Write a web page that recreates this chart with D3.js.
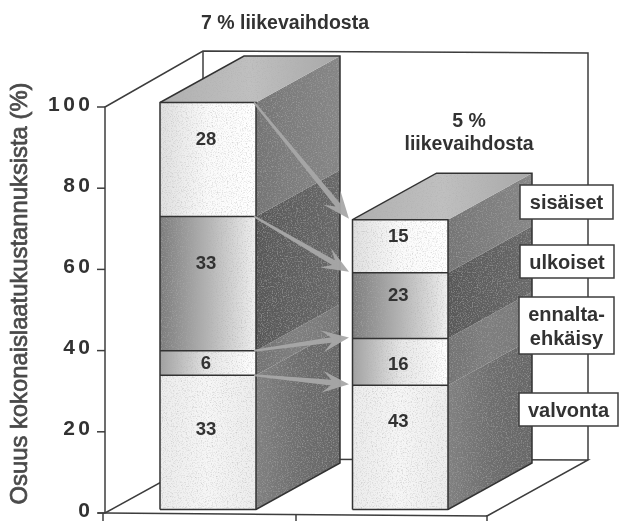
<!DOCTYPE html>
<html>
<head>
<meta charset="utf-8">
<script src="https://cdn.jsdelivr.net/npm/d3@7"></script>
<style>
  html, body { margin: 0; padding: 0; background: #fff; }
  svg { display: block; }
  text { font-family: "Liberation Sans", Arial, sans-serif; font-weight: bold; fill: #333; }
</style>
</head>
<body>
<div id="chart"></div>
<script>
const width = 630, height = 529;

const axisTicks = [0, 20, 40, 60, 80, 100];
const categories = ['valvonta', 'ennalta-ehkäisy', 'ulkoiset', 'sisäiset'];
const bar1Labels = [33, 6, 33, 28];
const bar2Labels = [43, 16, 23, 15];
// drawn heights in axis units: second bar is scaled 5/7 against the first
const bar1Heights = [33, 6, 33, 28];
const bar2Heights = [30.5, 11.5, 16.2, 13];

const svg = d3.select('#chart').append('svg')
    .attr('width', width)
    .attr('height', height);

const defs = svg.append('defs');

// paper grain for the scanned faces
const grain = defs.append('filter').attr('id', 'grain')
    .attr('x', 0).attr('y', 0).attr('width', '100%').attr('height', '100%');
grain.append('feTurbulence').attr('type', 'fractalNoise').attr('baseFrequency', 0.8)
    .attr('numOctaves', 2).attr('seed', 4).attr('result', 'n');
grain.append('feColorMatrix').attr('in', 'n').attr('type', 'matrix')
    .attr('values', '0 0 0 0 0.42  0 0 0 0 0.42  0 0 0 0 0.42  0 0 0 1.5 -0.72')
    .attr('result', 'dots');
grain.append('feComposite').attr('in', 'dots').attr('in2', 'SourceAlpha').attr('operator', 'in').attr('result', 'clip');
const gm = grain.append('feMerge');
gm.append('feMergeNode').attr('in', 'SourceGraphic');
gm.append('feMergeNode').attr('in', 'clip');

const soft = defs.append('filter').attr('id', 'soft');
soft.append('feGaussianBlur').attr('stdDeviation', 0.4);

function linearGrad(id, x2, y2, stops) {
    const g = defs.append('linearGradient').attr('id', id)
        .attr('x1', 0).attr('y1', 0).attr('x2', x2).attr('y2', y2);
    stops.forEach((s, i) => g.append('stop')
        .attr('offset', i / (stops.length - 1))
        .attr('stop-color', s));
}

// one front and one side gradient for each category, bottom to top
const frontStops = [
    ['#ececec', '#f6f6f6', '#ededed'],
    ['#a0a0a0', '#e6e6e6', '#ffffff'],
    ['#7c7c7c', '#b4b4b4', '#f0f0f0'],
    ['#e0e0e0', '#fafafa', '#ffffff']
];
const sideStops = [
    ['#808080', '#6e6e6e', '#666666'],
    ['#727272', '#7e7e7e', '#767676'],
    ['#585858', '#606060', '#686868'],
    ['#747474', '#7e7e7e', '#868686']
];
frontStops.forEach((s, i) => linearGrad('front' + i, 1, 0, s));
sideStops.forEach((s, i) => linearGrad('side' + i, 1, 0, s));
linearGrad('topFace', 1, 0, ['#b0b0b0', '#c0c0c0', '#a8a8a8']);

// axis is drawn on the front floor edge, the bars sit a little behind it
const yAxisScale = d3.scaleLinear().domain([0, 100]).range([513, 107]);
const yBar = d3.scaleLinear().domain([0, 100]).range([509.5, 102.5]);
const depth = { x: 84, y: -46.5 };
const wall = { x: 98, y: -56 };
const xFloor = d3.scaleLinear().domain([0, 2]).range([105, 487]);

// where the number sits inside its segment, measured from the segment's top
const bar1LabelFrac = [0.40, 0.48, 0.34, 0.32];
const bar2LabelFrac = [0.28, 0.53, 0.33, 0.30];

const bars = [
    { x0: 160, x1: 256, heights: bar1Heights, labels: bar1Labels, frac: bar1LabelFrac },
    { x0: 352.5, x1: 448, heights: bar2Heights, labels: bar2Labels, frac: bar2LabelFrac }
];
bars.forEach(b => {
    let acc = 0;
    b.stack = b.heights.map(h => {
        const s = { y0: acc, y1: acc + h };
        acc += h;
        return s;
    });
});

const frame = svg.append('g').attr('filter', 'url(#soft)')
    .attr('fill', 'none').attr('stroke', '#3c3c3c').attr('stroke-width', 1.5);

// walls and floor
const line = d3.line();
const x0 = xFloor(0), x2 = xFloor(2), yTop = yAxisScale(100), yBot = yAxisScale(0);
frame.append('path').attr('d', line([[x0, yBot], [x0, yTop], [x0 + wall.x, yTop + wall.y], [x2 + 101, yTop + wall.y + 2], [x2 + 101, yBot - 53]]));
frame.append('path').attr('d', line([[x0 + wall.x, yTop + wall.y], [x0 + wall.x, yTop + wall.y + 30]]));
frame.append('path').attr('d', line([[x0 - 7, yBot], [x0, yBot], [x2, yBot + 3]]));
frame.append('path').attr('d', line([[x0, yBot], [x0 + wall.x, yBot - 54], [x2 + 101, yBot - 53], [x2, yBot + 3]]));
[0, 1, 2].forEach(i => {
    const x = xFloor(i) - (i === 0 ? 2 : 0);
    frame.append('line').attr('x1', x).attr('x2', x)
        .attr('y1', yBot + (i === 0 ? 0 : 2)).attr('y2', yBot + 8);
});

// y axis ticks and labels
axisTicks.forEach(t => {
    frame.append('line')
        .attr('x1', x0 - 8).attr('x2', x0)
        .attr('y1', yAxisScale(t)).attr('y2', yAxisScale(t));
});
const labelG = svg.append('g').attr('filter', 'url(#soft)');
labelG.selectAll('.tick-label')
    .data(axisTicks)
    .join('text')
    .attr('class', 'tick-label')
    .attr('x', 93.5)
    .attr('y', d => yAxisScale(d) + 3.5)
    .attr('text-anchor', 'end')
    .attr('font-size', 21)
    .attr('letter-spacing', 3.5)
    .text(d => d);

labelG.append('text')
    .attr('transform', 'translate(27,293.5) rotate(-90)')
    .attr('text-anchor', 'middle')
    .attr('font-size', 23.8)
    .style('font-weight', 'normal')
    .style('fill', '#4a4a4a')
    .style('stroke', '#4a4a4a')
    .style('stroke-width', 0.7)
    .text('Osuus kokonaislaatukustannuksista (%)');

// bars
const barG = svg.append('g');
bars.forEach(b => {
    const yTopBar = yBar(b.stack[b.stack.length - 1].y1);
    const g = barG.append('g').attr('filter', 'url(#grain)');

    g.selectAll('.side')
        .data(b.stack)
        .join('polygon')
        .attr('class', 'side')
        .attr('points', d => [
            [b.x1, yBar(d.y0)], [b.x1 + depth.x, yBar(d.y0) + depth.y],
            [b.x1 + depth.x, yBar(d.y1) + depth.y], [b.x1, yBar(d.y1)]
        ].join(' '))
        .attr('fill', (d, i) => `url(#side${i})`);

    g.append('polygon')
        .attr('points', [
            [b.x0, yTopBar], [b.x0 + depth.x, yTopBar + depth.y],
            [b.x1 + depth.x, yTopBar + depth.y], [b.x1, yTopBar]
        ].join(' '))
        .attr('fill', 'url(#topFace)');

    g.selectAll('.front')
        .data(b.stack)
        .join('rect')
        .attr('class', 'front')
        .attr('x', b.x0)
        .attr('width', b.x1 - b.x0)
        .attr('y', d => yBar(d.y1))
        .attr('height', d => yBar(d.y0) - yBar(d.y1))
        .attr('fill', (d, i) => `url(#front${i})`);

    const edges = barG.append('g').attr('filter', 'url(#soft)')
        .attr('fill', 'none').attr('stroke', '#333').attr('stroke-width', 1.5);
    edges.append('path').attr('d', line([
        [b.x0, yBar(0)], [b.x0, yTopBar], [b.x0 + depth.x, yTopBar + depth.y],
        [b.x1 + depth.x, yTopBar + depth.y], [b.x1 + depth.x, yBar(0) + depth.y],
        [b.x1, yBar(0)], [b.x0, yBar(0)]
    ]));
    edges.append('path').attr('d', line([[b.x0, yTopBar], [b.x1, yTopBar], [b.x1, yBar(0)]]));
    b.stack.slice(0, -1).forEach(d => {
        edges.append('line').attr('x1', b.x0).attr('x2', b.x1)
            .attr('y1', yBar(d.y1)).attr('y2', yBar(d.y1));
    });

    barG.append('g').attr('filter', 'url(#soft)')
        .selectAll('text')
        .data(b.stack)
        .join('text')
        .attr('x', (b.x0 + b.x1) / 2 - 2)
        .attr('y', (d, i) => yBar(d.y1) + (yBar(d.y0) - yBar(d.y1)) * b.frac[i])
        .attr('dy', 6.5)
        .attr('text-anchor', 'middle')
        .attr('font-size', 18.5)
        .text((d, i) => b.labels[i]);
});

// arrows from the first bar's boundaries to the second one's
const arrowG = svg.append('g').attr('filter', 'url(#soft)');
function arrowPath(p0, p1) {
    const a = Math.atan2(p1[1] - p0[1], p1[0] - p0[0]);
    const len = Math.hypot(p1[0] - p0[0], p1[1] - p0[1]);
    const pt = (along, off) => [
        p0[0] + Math.cos(a) * along - Math.sin(a) * off,
        p0[1] + Math.sin(a) * along + Math.cos(a) * off
    ];
    return d3.line()([
        pt(0, -1), pt(len - 18, -2.8), pt(len - 27, -11), pt(len, 0),
        pt(len - 27, 11), pt(len - 18, 2.8), pt(0, 1)
    ]) + 'Z';
}
[3, 2, 1, 0].forEach(i => {
    const from = bars[0].stack[i].y1;
    const to = bars[1].stack[i].y1;
    arrowG.append('path')
        .attr('d', arrowPath([bars[0].x1 - 2, yBar(from)], [bars[1].x0 - 3.5, yBar(to) - 1]))
        .attr('fill', '#a8a8a8')
        .attr('fill-opacity', 0.95);
});

// legend boxes, one per category, top to bottom
const legendRows = [
    { cat: 3, lines: ['sisäiset'], x: 520, y: 185, w: 93, h: 34 },
    { cat: 2, lines: ['ulkoiset'], x: 520, y: 245, w: 94, h: 33 },
    { cat: 1, lines: ['ennalta-', 'ehkäisy'], x: 519, y: 297, w: 95, h: 57 },
    { cat: 0, lines: ['valvonta'], x: 519, y: 393, w: 99, h: 33 }
];
const legend = svg.append('g').attr('filter', 'url(#soft)');
legendRows.forEach(r => {
    legend.append('rect')
        .attr('x', r.x).attr('y', r.y).attr('width', r.w).attr('height', r.h)
        .attr('fill', '#fff').attr('stroke', '#3c3c3c').attr('stroke-width', 1.5);
    r.lines.forEach((l, i) => {
        legend.append('text')
            .attr('x', r.x + r.w / 2)
            .attr('y', r.y + r.h / 2 + 7 + (i - (r.lines.length - 1) / 2) * 24)
            .attr('text-anchor', 'middle')
            .attr('font-size', 20)
            .text(l);
    });
});

// titles above the bars
const titles = svg.append('g').attr('filter', 'url(#soft)').attr('text-anchor', 'middle').attr('font-size', 19.5);
titles.append('text').attr('x', 285).attr('y', 29).text('7 % liikevaihdosta');
titles.append('text').attr('x', 469).attr('y', 127).text('5 %');
titles.append('text').attr('x', 469).attr('y', 150).text('liikevaihdosta');
</script>
</body>
</html>
